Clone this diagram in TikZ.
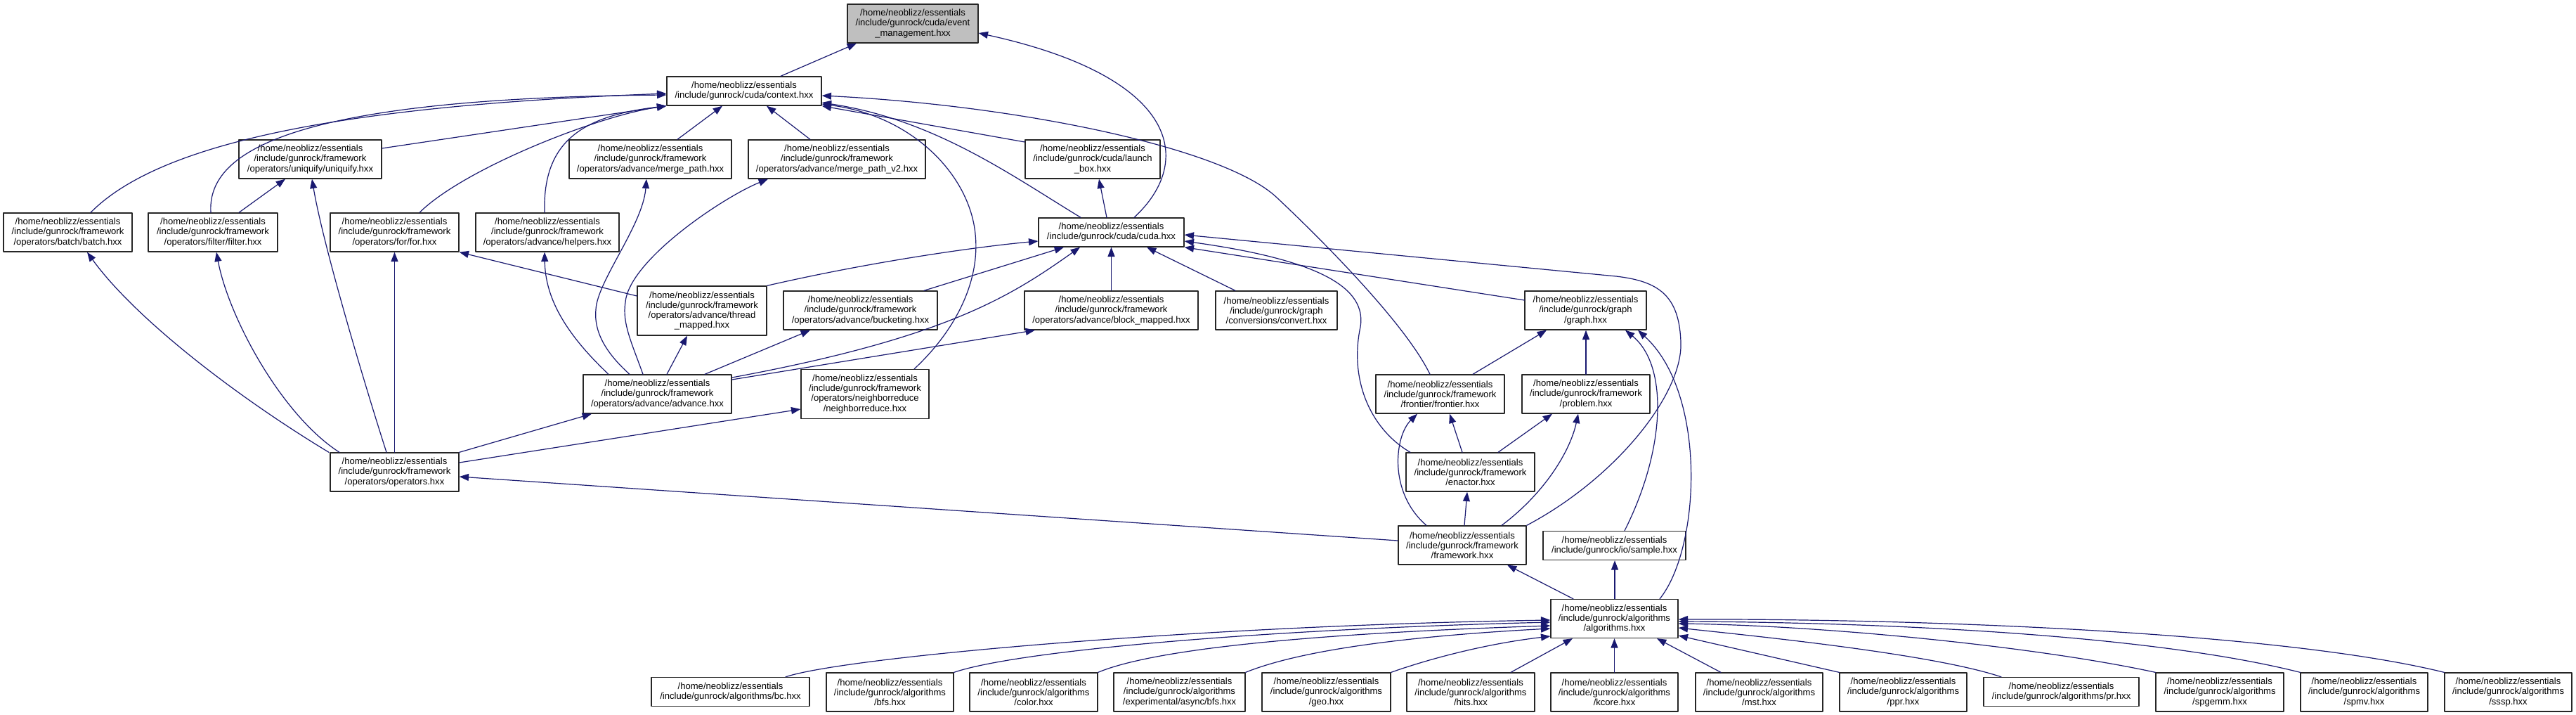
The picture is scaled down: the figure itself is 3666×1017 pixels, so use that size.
\documentclass[tikz,border=0pt]{standalone}
\usepackage{fontspec}
\setmainfont{Liberation Sans}
\usetikzlibrary{arrows.meta}
\definecolor{incblue}{RGB}{25,25,112}
\tikzset{
  every picture/.append style={line cap=round,line join=round},
  inc file/.style={draw=black!85,fill=white,line width=1pt,align=center,inner sep=1pt,font=\fontsize{9.8}{10.6}\selectfont,minimum height=41.25pt},
  inc root/.style={inc file,fill=black!25},
  inc two/.style={minimum height=30.75pt},
  inc four/.style={minimum height=52.5pt},
  bw/.style={minimum width=#1*0.75pt},
  inc edge/.style={incblue,line width=0.9pt,-{Triangle[length=10pt,width=7.5pt]}}
}
\begin{document}
\begin{tikzpicture}[x=0.75pt,y=-0.75pt]
\path[fill=white] (0,0) rectangle (3666,1017);
% files, top to bottom
\node[inc root,bw=186] (evt) at (1299,33.5) {/home/neoblizz/essentials\\/include/gunrock/cuda/event\\\_management.hxx};
\node[inc file,inc two,bw=220] (ctx) at (1059,129.5) {/home/neoblizz/essentials\\/include/gunrock/cuda/context.hxx};
\node[inc file,bw=203] (uniq) at (441.5,226.5) {/home/neoblizz/essentials\\/include/gunrock/framework\\/operators/uniquify/uniquify.hxx};
\node[inc file,bw=231] (mpath) at (925.5,226.5) {/home/neoblizz/essentials\\/include/gunrock/framework\\/operators/advance/merge\_path.hxx};
\node[inc file,bw=252] (mpath2) at (1191,226.5) {/home/neoblizz/essentials\\/include/gunrock/framework\\/operators/advance/merge\_path\_v2.hxx};
\node[inc file,bw=192] (launch) at (1555,226.5) {/home/neoblizz/essentials\\/include/gunrock/cuda/launch\\\_box.hxx};
\node[inc file,bw=183] (batch) at (96.5,330.5) {/home/neoblizz/essentials\\/include/gunrock/framework\\/operators/batch/batch.hxx};
\node[inc file,bw=184] (filter) at (303,330.5) {/home/neoblizz/essentials\\/include/gunrock/framework\\/operators/filter/filter.hxx};
\node[inc file,bw=183] (for) at (561.5,330.5) {/home/neoblizz/essentials\\/include/gunrock/framework\\/operators/for/for.hxx};
\node[inc file,bw=204] (helpers) at (779,330.5) {/home/neoblizz/essentials\\/include/gunrock/framework\\/operators/advance/helpers.hxx};
\node[inc file,inc two,bw=207] (cuda) at (1581.5,330.5) {/home/neoblizz/essentials\\/include/gunrock/cuda/cuda.hxx};
\node[inc file,inc four,bw=184] (thread) at (999,442) {/home/neoblizz/essentials\\/include/gunrock/framework\\/operators/advance/thread\\\_mapped.hxx};
\node[inc file,bw=219] (bucket) at (1224.5,441.5) {/home/neoblizz/essentials\\/include/gunrock/framework\\/operators/advance/bucketing.hxx};
\node[inc file,bw=247] (block) at (1581.5,441.5) {/home/neoblizz/essentials\\/include/gunrock/framework\\/operators/advance/block\_mapped.hxx};
\node[inc file,bw=173] (convert) at (1816.5,441.5) {/home/neoblizz/essentials\\/include/gunrock/graph\\/conversions/convert.hxx};
\node[inc file,bw=173] (graph) at (2256.5,441.5) {/home/neoblizz/essentials\\/include/gunrock/graph\\/graph.hxx};
\node[inc file,bw=211] (adv) at (935.5,560.5) {/home/neoblizz/essentials\\/include/gunrock/framework\\/operators/advance/advance.hxx};
\node[inc file,inc four,bw=182] (nbr) at (1231,560.5) {/home/neoblizz/essentials\\/include/gunrock/framework\\/operators/neighborreduce\\/neighborreduce.hxx};
\node[inc file,bw=183] (frontier) at (2049.5,560.5) {/home/neoblizz/essentials\\/include/gunrock/framework\\/frontier/frontier.hxx};
\node[inc file,bw=182] (problem) at (2257,560.5) {/home/neoblizz/essentials\\/include/gunrock/framework\\/problem.hxx};
\node[inc file,bw=183] (ops) at (561.5,671.5) {/home/neoblizz/essentials\\/include/gunrock/framework\\/operators/operators.hxx};
\node[inc file,bw=183] (enactor) at (2092.5,671.5) {/home/neoblizz/essentials\\/include/gunrock/framework\\/enactor.hxx};
\node[inc file,bw=182] (fw) at (2081,775.5) {/home/neoblizz/essentials\\/include/gunrock/framework\\/framework.hxx};
\node[inc file,inc two,bw=203] (sample) at (2297.5,776) {/home/neoblizz/essentials\\/include/gunrock/io/sample.hxx};
\node[inc file,bw=181] (algo) at (2297.5,880) {/home/neoblizz/essentials\\/include/gunrock/algorithms\\/algorithms.hxx};
% algorithms row
\node[inc file,inc two,bw=225] (bc) at (1039.5,984) {/home/neoblizz/essentials\\/include/gunrock/algorithms/bc.hxx};
\node[inc file,bw=181] (bfs) at (1266.5,984.5) {/home/neoblizz/essentials\\/include/gunrock/algorithms\\/bfs.hxx};
\node[inc file,bw=182] (color) at (1471,984.5) {/home/neoblizz/essentials\\/include/gunrock/algorithms\\/color.hxx};
\node[inc file,bw=187] (async) at (1678.5,984.5) {/home/neoblizz/essentials\\/include/gunrock/algorithms\\/experimental/async/bfs.hxx};
\node[inc file,bw=183] (geo) at (1887.5,984.5) {/home/neoblizz/essentials\\/include/gunrock/algorithms\\/geo.hxx};
\node[inc file,bw=182] (hits) at (2093,984.5) {/home/neoblizz/essentials\\/include/gunrock/algorithms\\/hits.hxx};
\node[inc file,bw=181] (kcore) at (2297.5,984.5) {/home/neoblizz/essentials\\/include/gunrock/algorithms\\/kcore.hxx};
\node[inc file,bw=181] (mst) at (2503.5,984.5) {/home/neoblizz/essentials\\/include/gunrock/algorithms\\/mst.hxx};
\node[inc file,bw=181] (ppr) at (2708.5,984.5) {/home/neoblizz/essentials\\/include/gunrock/algorithms\\/ppr.hxx};
\node[inc file,inc two,bw=221] (pr) at (2933.5,984) {/home/neoblizz/essentials\\/include/gunrock/algorithms/pr.hxx};
\node[inc file,bw=182] (spgemm) at (3159,984.5) {/home/neoblizz/essentials\\/include/gunrock/algorithms\\/spgemm.hxx};
\node[inc file,bw=181] (spmv) at (3364.5,984.5) {/home/neoblizz/essentials\\/include/gunrock/algorithms\\/spmv.hxx};
\node[inc file,bw=181] (sssp) at (3569.5,984.5) {/home/neoblizz/essentials\\/include/gunrock/algorithms\\/sssp.hxx};
% event management
\draw[inc edge] (ctx.north -| 1111,0) -- (evt.south -| 1219,0);
\draw[inc edge] (cuda.north -| 1614,0) .. controls (1700,230) and (1680,110) .. (evt.east |- 0,47);
% context
\draw[inc edge] (uniq.east |- 0,211) -- (ctx.south west);
\draw[inc edge] (batch.north -| 129,0) .. controls (230,200) and (500,150) .. (ctx.west |- 0,133);
\draw[inc edge] (filter.north -| 300,0) .. controls (295,220) and (400,140) .. (ctx.west |- 0,135);
\draw[inc edge] (for.north -| 597,0) .. controls (660,240) and (850,165) .. (ctx.south west);
\draw[inc edge] (helpers.north -| 775,0) .. controls (772,200) and (830,165) .. (ctx.south west);
\draw[inc edge] (mpath.north -| 964,0) -- (ctx.south -| 1028,0);
\draw[inc edge] (mpath2.north -| 1153,0) -- (ctx.south -| 1091,0);
\draw[inc edge] (launch.west |- 0,202) -- (ctx.south east);
\draw[inc edge] (cuda.north -| 1538,0) .. controls (1440,250) and (1330,170) .. (ctx.east |- 0,146);
\draw[inc edge] (nbr.north -| 1301,0) .. controls (1360,470) and (1395,400) .. (1388,333) .. controls (1380,250) and (1300,165) .. (ctx.east |- 0,148);
\draw[inc edge] (frontier.north -| 2035,0) .. controls (2000,460) and (1880,340) .. (1816,280) .. controls (1740,210) and (1450,150) .. (ctx.east |- 0,136);
% operators
\draw[inc edge] (filter.north -| 340,0) -- (uniq.south -| 406,0);
\draw[inc edge] (ops.north -| 550,0) .. controls (520,550) and (460,350) .. (uniq.south -| 444,0);
\draw[inc edge] (ops.north -| 468,0) .. controls (330,560) and (190,450) .. (batch.south -| 124,0);
\draw[inc edge] (ops.north -| 483,0) .. controls (400,590) and (325,450) .. (filter.south -| 308,0);
\draw[inc edge] (ops.north) -- (for.south);
\draw[inc edge] (ops.north east) -- (adv.south -| 842,0);
\draw[inc edge] (ops.east |- 0,658) -- (nbr.west |- 0,582);
\draw[inc edge] (thread.west |- 0,421) -- (for.south east);
% advance
\draw[inc edge] (adv.north -| 866,0) .. controls (800,470) and (776,420) .. (helpers.south -| 775,0);
\draw[inc edge] (adv.north -| 896,0) .. controls (860,500) and (845,470) .. (848,440) .. controls (850,400) and (915,320) .. (mpath.south -| 920,0);
\draw[inc edge] (adv.north -| 915,0) .. controls (900,490) and (885,460) .. (890,430) .. controls (895,370) and (1030,280) .. (mpath2.south -| 1093,0);
\draw[inc edge] (adv.north -| 949,0) -- (thread.south -| 978,0);
\draw[inc edge] (adv.north -| 1003,0) -- (bucket.south -| 1153,0);
\draw[inc edge] (adv.east |- 0,540) -- (block.south -| 1473,0);
\draw[inc edge] (adv.east |- 0,537) .. controls (1350,480) and (1440,420) .. (cuda.south -| 1537,0);
% cuda
\draw[inc edge] (thread.north east) .. controls (1250,370) and (1400,350) .. (cuda.west |- 0,343);
\draw[inc edge] (bucket.north -| 1315,0) -- (cuda.south -| 1514,0);
\draw[inc edge] (block.north) -- (cuda.south);
\draw[inc edge] (convert.north -| 1758,0) -- (cuda.south -| 1632,0);
\draw[inc edge] (cuda.north -| 1575,0) -- (launch.south -| 1564,0);
\draw[inc edge] (graph.west |- 0,427) -- (cuda.south east);
\draw[inc edge] (enactor.north -| 2007,0) .. controls (1950,610) and (1920,540) .. (1936,465) .. controls (1945,410) and (1880,370) .. (cuda.east |- 0,343);
\draw[inc edge] (fw.north east) .. controls (2300,680) and (2395,560) .. (2392,487) .. controls (2390,420) and (2360,400) .. (2300,393) -- (cuda.east |- 0,334);
% graph
\draw[inc edge] (frontier.north -| 2096,0) -- (graph.south -| 2201,0);
\draw[inc edge] (problem.north) -- (graph.south -| 2257,0);
\draw[inc edge] (sample.north -| 2312,0) .. controls (2370,640) and (2375,520) .. (graph.south -| 2313,0);
\draw[inc edge] (algo.north -| 2362,0) .. controls (2420,780) and (2430,560) .. (graph.south -| 2331,0);
% framework
\draw[inc edge] (enactor.north -| 2081,0) -- (frontier.south -| 2063,0);
\draw[inc edge] (enactor.north -| 2132,0) -- (problem.south -| 2209,0);
\draw[inc edge] (fw.north -| 2030,0) .. controls (1975,700) and (1985,620) .. (frontier.south -| 2017,0);
\draw[inc edge] (fw.north -| 2084,0) -- (enactor.south -| 2088,0);
\draw[inc edge] (fw.north -| 2137,0) .. controls (2200,700) and (2235,640) .. (problem.south -| 2246,0);
\draw[inc edge] (fw.west |- 0,769) -- (ops.east |- 0,678);
\draw[inc edge] (algo.north -| 2239,0) -- (fw.south -| 2145,0);
\draw[inc edge] (algo.north -| 2298,0) -- (sample.south -| 2298,0);
% algorithms
\draw[inc edge] (bc.north -| 1118,0) .. controls (1200,935) and (1700,890) .. (algo.west |- 0,882);
\draw[inc edge] (bfs.north east) .. controls (1450,925) and (1800,895) .. (algo.west |- 0,885);
\draw[inc edge] (color.north east) .. controls (1650,920) and (1900,900) .. (algo.west |- 0,890);
\draw[inc edge] (async.north east) .. controls (1850,925) and (2000,905) .. (algo.west |- 0,894);
\draw[inc edge] (geo.north east) .. controls (2040,935) and (2120,915) .. (algo.west |- 0,905);
\draw[inc edge] (hits.north -| 2150,0) -- (algo.south -| 2238,0);
\draw[inc edge] (kcore.north) -- (algo.south);
\draw[inc edge] (mst.north -| 2449,0) -- (algo.south -| 2358,0);
\draw[inc edge] (ppr.north west) -- (algo.east |- 0,904);
\draw[inc edge] (pr.north -| 2848,0) .. controls (2750,930) and (2500,905) .. (algo.east |- 0,893);
\draw[inc edge] (spgemm.north west) .. controls (2900,920) and (2600,890) .. (algo.east |- 0,887);
\draw[inc edge] (spmv.north west) .. controls (3050,900) and (2650,885) .. (algo.east |- 0,884);
\draw[inc edge] (sssp.north west) .. controls (3250,900) and (2750,880) .. (algo.east |- 0,881);
\end{tikzpicture}
\end{document}
